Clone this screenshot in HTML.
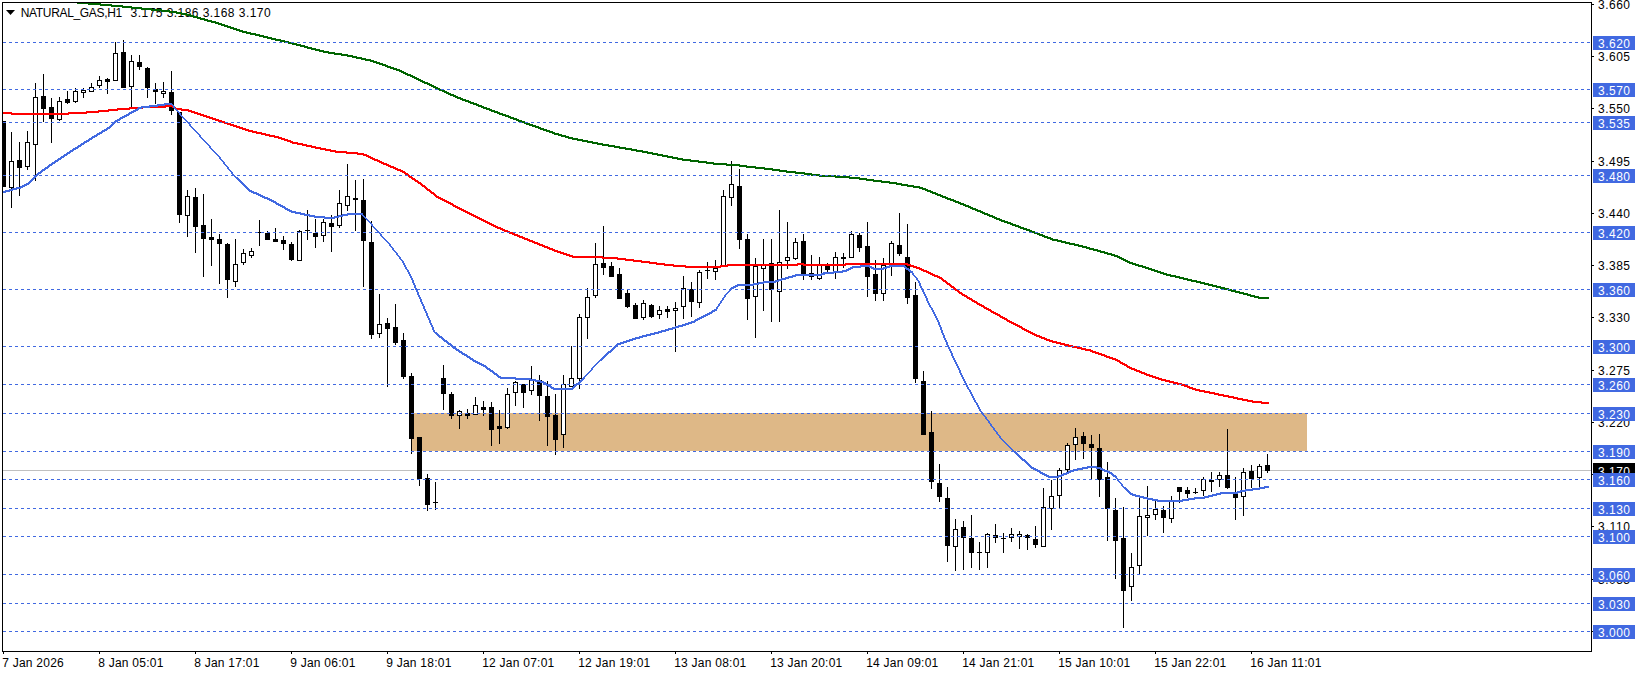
<!DOCTYPE html>
<html lang="en"><head><meta charset="utf-8"><title>NATURAL_GAS,H1</title>
<style>html,body{margin:0;padding:0;background:#fff;overflow:hidden}svg{display:block}text{font-family:"Liberation Sans",sans-serif;font-size:12px;fill:#000}.w{fill:#fff}.c{shape-rendering:crispEdges}</style></head><body>
<svg width="1641" height="675" viewBox="0 0 1641 675">
<rect width="1641" height="675" fill="#fff"/>
<defs><clipPath id="cp"><rect x="3" y="3" width="1588" height="648"/></clipPath></defs>
<g class="c" clip-path="url(#cp)">
<rect x="412" y="413" width="895" height="38" fill="#deb887"/>
<rect x="0" y="470" width="1591" height="1" fill="#c0c0c0"/>
</g>
<g class="c" clip-path="url(#cp)">
<rect x="3" y="121" width="1" height="66" fill="#000"/>
<rect x="1" y="121" width="5" height="66" fill="#000"/>
<rect x="11" y="132" width="1" height="76" fill="#000"/>
<rect x="9" y="161" width="5" height="27" fill="#000"/><rect x="10" y="162" width="3" height="25" fill="#fff"/>
<rect x="19" y="142" width="1" height="54" fill="#000"/>
<rect x="17" y="160" width="5" height="8" fill="#000"/>
<rect x="27" y="131" width="1" height="39" fill="#000"/>
<rect x="25" y="142" width="5" height="25" fill="#000"/><rect x="26" y="143" width="3" height="23" fill="#fff"/>
<rect x="35" y="83" width="1" height="98" fill="#000"/>
<rect x="33" y="97" width="5" height="48" fill="#000"/><rect x="34" y="98" width="3" height="46" fill="#fff"/>
<rect x="43" y="74" width="1" height="48" fill="#000"/>
<rect x="41" y="96" width="5" height="13" fill="#000"/>
<rect x="51" y="98" width="1" height="45" fill="#000"/>
<rect x="49" y="107" width="5" height="12" fill="#000"/>
<rect x="59" y="97" width="1" height="24" fill="#000"/>
<rect x="57" y="101" width="5" height="19" fill="#000"/><rect x="58" y="102" width="3" height="17" fill="#fff"/>
<rect x="67" y="91" width="1" height="13" fill="#000"/>
<rect x="65" y="99" width="5" height="4" fill="#000"/>
<rect x="75" y="88" width="1" height="15" fill="#000"/>
<rect x="73" y="91" width="5" height="11" fill="#000"/><rect x="74" y="92" width="3" height="9" fill="#fff"/>
<rect x="83" y="88" width="1" height="10" fill="#000"/>
<rect x="81" y="90" width="5" height="3" fill="#000"/><rect x="82" y="91" width="3" height="1" fill="#fff"/>
<rect x="91" y="83" width="1" height="9" fill="#000"/>
<rect x="89" y="87" width="5" height="5" fill="#000"/><rect x="90" y="88" width="3" height="3" fill="#fff"/>
<rect x="99" y="76" width="1" height="12" fill="#000"/>
<rect x="97" y="80" width="5" height="6" fill="#000"/><rect x="98" y="81" width="3" height="4" fill="#fff"/>
<rect x="107" y="78" width="1" height="16" fill="#000"/>
<rect x="105" y="79" width="5" height="3" fill="#000"/>
<rect x="115" y="42" width="1" height="39" fill="#000"/>
<rect x="113" y="53" width="5" height="28" fill="#000"/><rect x="114" y="54" width="3" height="26" fill="#fff"/>
<rect x="123" y="40" width="1" height="48" fill="#000"/>
<rect x="121" y="52" width="5" height="36" fill="#000"/>
<rect x="131" y="55" width="1" height="52" fill="#000"/>
<rect x="129" y="61" width="5" height="26" fill="#000"/><rect x="130" y="62" width="3" height="24" fill="#fff"/>
<rect x="139" y="55" width="1" height="15" fill="#000"/>
<rect x="137" y="62" width="5" height="5" fill="#000"/>
<rect x="147" y="67" width="1" height="31" fill="#000"/>
<rect x="145" y="68" width="5" height="20" fill="#000"/>
<rect x="155" y="83" width="1" height="21" fill="#000"/>
<rect x="153" y="89" width="5" height="3" fill="#000"/>
<rect x="163" y="82" width="1" height="16" fill="#000"/>
<rect x="161" y="91" width="5" height="3" fill="#000"/><rect x="162" y="92" width="3" height="1" fill="#fff"/>
<rect x="171" y="71" width="1" height="44" fill="#000"/>
<rect x="169" y="92" width="5" height="19" fill="#000"/>
<rect x="179" y="112" width="1" height="111" fill="#000"/>
<rect x="177" y="112" width="5" height="103" fill="#000"/>
<rect x="187" y="190" width="1" height="47" fill="#000"/>
<rect x="185" y="196" width="5" height="20" fill="#000"/><rect x="186" y="197" width="3" height="18" fill="#fff"/>
<rect x="195" y="188" width="1" height="65" fill="#000"/>
<rect x="193" y="197" width="5" height="30" fill="#000"/>
<rect x="203" y="194" width="1" height="83" fill="#000"/>
<rect x="201" y="225" width="5" height="14" fill="#000"/>
<rect x="211" y="219" width="1" height="47" fill="#000"/>
<rect x="209" y="237" width="5" height="3" fill="#000"/>
<rect x="219" y="234" width="1" height="50" fill="#000"/>
<rect x="217" y="239" width="5" height="5" fill="#000"/>
<rect x="227" y="243" width="1" height="55" fill="#000"/>
<rect x="225" y="244" width="5" height="36" fill="#000"/>
<rect x="235" y="239" width="1" height="48" fill="#000"/>
<rect x="233" y="264" width="5" height="18" fill="#000"/><rect x="234" y="265" width="3" height="16" fill="#fff"/>
<rect x="243" y="249" width="1" height="16" fill="#000"/>
<rect x="241" y="253" width="5" height="10" fill="#000"/><rect x="242" y="254" width="3" height="8" fill="#fff"/>
<rect x="251" y="248" width="1" height="10" fill="#000"/>
<rect x="249" y="251" width="5" height="5" fill="#000"/><rect x="250" y="252" width="3" height="3" fill="#fff"/>
<rect x="259" y="220" width="1" height="26" fill="#000"/>
<rect x="257" y="232" width="5" height="1" fill="#000"/>
<rect x="267" y="231" width="1" height="9" fill="#000"/>
<rect x="265" y="233" width="5" height="7" fill="#000"/>
<rect x="275" y="228" width="1" height="14" fill="#000"/>
<rect x="273" y="239" width="5" height="3" fill="#000"/>
<rect x="283" y="236" width="1" height="14" fill="#000"/>
<rect x="281" y="240" width="5" height="4" fill="#000"/>
<rect x="291" y="242" width="1" height="19" fill="#000"/>
<rect x="289" y="244" width="5" height="16" fill="#000"/>
<rect x="299" y="230" width="1" height="31" fill="#000"/>
<rect x="297" y="231" width="5" height="30" fill="#000"/><rect x="298" y="232" width="3" height="28" fill="#fff"/>
<rect x="307" y="210" width="1" height="30" fill="#000"/>
<rect x="305" y="230" width="5" height="1" fill="#000"/>
<rect x="315" y="219" width="1" height="29" fill="#000"/>
<rect x="313" y="233" width="5" height="4" fill="#000"/>
<rect x="323" y="219" width="1" height="23" fill="#000"/>
<rect x="321" y="222" width="5" height="14" fill="#000"/><rect x="322" y="223" width="3" height="12" fill="#fff"/>
<rect x="331" y="215" width="1" height="37" fill="#000"/>
<rect x="329" y="223" width="5" height="4" fill="#000"/>
<rect x="339" y="190" width="1" height="38" fill="#000"/>
<rect x="337" y="203" width="5" height="23" fill="#000"/><rect x="338" y="204" width="3" height="21" fill="#fff"/>
<rect x="347" y="164" width="1" height="47" fill="#000"/>
<rect x="345" y="196" width="5" height="10" fill="#000"/><rect x="346" y="197" width="3" height="8" fill="#fff"/>
<rect x="355" y="180" width="1" height="51" fill="#000"/>
<rect x="353" y="198" width="5" height="2" fill="#000"/>
<rect x="363" y="179" width="1" height="108" fill="#000"/>
<rect x="361" y="200" width="5" height="41" fill="#000"/>
<rect x="371" y="221" width="1" height="118" fill="#000"/>
<rect x="369" y="242" width="5" height="93" fill="#000"/>
<rect x="379" y="294" width="1" height="44" fill="#000"/>
<rect x="377" y="324" width="5" height="10" fill="#000"/><rect x="378" y="325" width="3" height="8" fill="#fff"/>
<rect x="387" y="318" width="1" height="69" fill="#000"/>
<rect x="385" y="323" width="5" height="6" fill="#000"/>
<rect x="395" y="304" width="1" height="41" fill="#000"/>
<rect x="393" y="327" width="5" height="16" fill="#000"/>
<rect x="403" y="333" width="1" height="46" fill="#000"/>
<rect x="401" y="340" width="5" height="37" fill="#000"/>
<rect x="411" y="373" width="1" height="81" fill="#000"/>
<rect x="409" y="376" width="5" height="63" fill="#000"/>
<rect x="419" y="437" width="1" height="49" fill="#000"/>
<rect x="417" y="437" width="5" height="42" fill="#000"/>
<rect x="427" y="474" width="1" height="37" fill="#000"/>
<rect x="425" y="478" width="5" height="27" fill="#000"/>
<rect x="435" y="482" width="1" height="28" fill="#000"/>
<rect x="433" y="502" width="5" height="1" fill="#000"/>
<rect x="443" y="365" width="1" height="45" fill="#000"/>
<rect x="441" y="378" width="5" height="16" fill="#000"/>
<rect x="451" y="392" width="1" height="27" fill="#000"/>
<rect x="449" y="394" width="5" height="22" fill="#000"/>
<rect x="459" y="410" width="1" height="19" fill="#000"/>
<rect x="457" y="411" width="5" height="5" fill="#000"/><rect x="458" y="412" width="3" height="3" fill="#fff"/>
<rect x="467" y="409" width="1" height="10" fill="#000"/>
<rect x="465" y="413" width="5" height="3" fill="#000"/>
<rect x="475" y="397" width="1" height="18" fill="#000"/>
<rect x="473" y="405" width="5" height="10" fill="#000"/><rect x="474" y="406" width="3" height="8" fill="#fff"/>
<rect x="483" y="401" width="1" height="15" fill="#000"/>
<rect x="481" y="407" width="5" height="3" fill="#000"/>
<rect x="491" y="402" width="1" height="44" fill="#000"/>
<rect x="489" y="407" width="5" height="23" fill="#000"/>
<rect x="499" y="410" width="1" height="34" fill="#000"/>
<rect x="497" y="426" width="5" height="3" fill="#000"/>
<rect x="507" y="388" width="1" height="41" fill="#000"/>
<rect x="505" y="394" width="5" height="34" fill="#000"/><rect x="506" y="395" width="3" height="32" fill="#fff"/>
<rect x="515" y="381" width="1" height="25" fill="#000"/>
<rect x="513" y="382" width="5" height="11" fill="#000"/><rect x="514" y="383" width="3" height="9" fill="#fff"/>
<rect x="523" y="384" width="1" height="24" fill="#000"/>
<rect x="521" y="384" width="5" height="9" fill="#000"/>
<rect x="531" y="366" width="1" height="29" fill="#000"/>
<rect x="529" y="379" width="5" height="12" fill="#000"/><rect x="530" y="380" width="3" height="10" fill="#fff"/>
<rect x="539" y="375" width="1" height="46" fill="#000"/>
<rect x="537" y="380" width="5" height="16" fill="#000"/>
<rect x="547" y="381" width="1" height="65" fill="#000"/>
<rect x="545" y="396" width="5" height="21" fill="#000"/>
<rect x="555" y="394" width="1" height="61" fill="#000"/>
<rect x="553" y="415" width="5" height="25" fill="#000"/>
<rect x="563" y="375" width="1" height="73" fill="#000"/>
<rect x="561" y="384" width="5" height="51" fill="#000"/><rect x="562" y="385" width="3" height="49" fill="#fff"/>
<rect x="571" y="346" width="1" height="41" fill="#000"/>
<rect x="569" y="378" width="5" height="9" fill="#000"/><rect x="570" y="379" width="3" height="7" fill="#fff"/>
<rect x="579" y="314" width="1" height="75" fill="#000"/>
<rect x="577" y="317" width="5" height="62" fill="#000"/><rect x="578" y="318" width="3" height="60" fill="#fff"/>
<rect x="587" y="288" width="1" height="51" fill="#000"/>
<rect x="585" y="297" width="5" height="21" fill="#000"/><rect x="586" y="298" width="3" height="19" fill="#fff"/>
<rect x="595" y="243" width="1" height="55" fill="#000"/>
<rect x="593" y="264" width="5" height="32" fill="#000"/><rect x="594" y="265" width="3" height="30" fill="#fff"/>
<rect x="603" y="226" width="1" height="49" fill="#000"/>
<rect x="601" y="263" width="5" height="5" fill="#000"/>
<rect x="611" y="262" width="1" height="15" fill="#000"/>
<rect x="609" y="266" width="5" height="11" fill="#000"/>
<rect x="619" y="268" width="1" height="31" fill="#000"/>
<rect x="617" y="274" width="5" height="25" fill="#000"/>
<rect x="627" y="289" width="1" height="19" fill="#000"/>
<rect x="625" y="293" width="5" height="14" fill="#000"/>
<rect x="635" y="303" width="1" height="16" fill="#000"/>
<rect x="633" y="305" width="5" height="14" fill="#000"/>
<rect x="643" y="300" width="1" height="20" fill="#000"/>
<rect x="641" y="303" width="5" height="15" fill="#000"/><rect x="642" y="304" width="3" height="13" fill="#fff"/>
<rect x="651" y="304" width="1" height="14" fill="#000"/>
<rect x="649" y="305" width="5" height="12" fill="#000"/>
<rect x="659" y="306" width="1" height="13" fill="#000"/>
<rect x="657" y="310" width="5" height="5" fill="#000"/><rect x="658" y="311" width="3" height="3" fill="#fff"/>
<rect x="667" y="306" width="1" height="12" fill="#000"/>
<rect x="665" y="309" width="5" height="3" fill="#000"/>
<rect x="675" y="302" width="1" height="50" fill="#000"/>
<rect x="673" y="308" width="5" height="3" fill="#000"/><rect x="674" y="309" width="3" height="1" fill="#fff"/>
<rect x="683" y="276" width="1" height="43" fill="#000"/>
<rect x="681" y="288" width="5" height="19" fill="#000"/><rect x="682" y="289" width="3" height="17" fill="#fff"/>
<rect x="691" y="282" width="1" height="35" fill="#000"/>
<rect x="689" y="289" width="5" height="13" fill="#000"/>
<rect x="699" y="270" width="1" height="38" fill="#000"/>
<rect x="697" y="272" width="5" height="31" fill="#000"/><rect x="698" y="273" width="3" height="29" fill="#fff"/>
<rect x="707" y="262" width="1" height="17" fill="#000"/>
<rect x="705" y="270" width="5" height="1" fill="#000"/>
<rect x="715" y="260" width="1" height="20" fill="#000"/>
<rect x="713" y="268" width="5" height="4" fill="#000"/><rect x="714" y="269" width="3" height="2" fill="#fff"/>
<rect x="723" y="190" width="1" height="76" fill="#000"/>
<rect x="721" y="196" width="5" height="70" fill="#000"/><rect x="722" y="197" width="3" height="68" fill="#fff"/>
<rect x="731" y="161" width="1" height="45" fill="#000"/>
<rect x="729" y="184" width="5" height="14" fill="#000"/><rect x="730" y="185" width="3" height="12" fill="#fff"/>
<rect x="739" y="169" width="1" height="80" fill="#000"/>
<rect x="737" y="186" width="5" height="54" fill="#000"/>
<rect x="747" y="234" width="1" height="86" fill="#000"/>
<rect x="745" y="239" width="5" height="60" fill="#000"/>
<rect x="755" y="258" width="1" height="80" fill="#000"/>
<rect x="753" y="266" width="5" height="31" fill="#000"/><rect x="754" y="267" width="3" height="29" fill="#fff"/>
<rect x="763" y="239" width="1" height="72" fill="#000"/>
<rect x="761" y="264" width="5" height="5" fill="#000"/><rect x="762" y="265" width="3" height="3" fill="#fff"/>
<rect x="771" y="239" width="1" height="83" fill="#000"/>
<rect x="769" y="263" width="5" height="27" fill="#000"/>
<rect x="779" y="210" width="1" height="112" fill="#000"/>
<rect x="777" y="262" width="5" height="30" fill="#000"/><rect x="778" y="263" width="3" height="28" fill="#fff"/>
<rect x="787" y="222" width="1" height="47" fill="#000"/>
<rect x="785" y="257" width="5" height="4" fill="#000"/><rect x="786" y="258" width="3" height="2" fill="#fff"/>
<rect x="795" y="238" width="1" height="22" fill="#000"/>
<rect x="793" y="242" width="5" height="17" fill="#000"/><rect x="794" y="243" width="3" height="15" fill="#fff"/>
<rect x="803" y="234" width="1" height="46" fill="#000"/>
<rect x="801" y="241" width="5" height="34" fill="#000"/>
<rect x="811" y="255" width="1" height="25" fill="#000"/>
<rect x="809" y="273" width="5" height="4" fill="#000"/>
<rect x="819" y="257" width="1" height="23" fill="#000"/>
<rect x="817" y="264" width="5" height="15" fill="#000"/><rect x="818" y="265" width="3" height="13" fill="#fff"/>
<rect x="827" y="263" width="1" height="10" fill="#000"/>
<rect x="825" y="266" width="5" height="4" fill="#000"/>
<rect x="835" y="252" width="1" height="27" fill="#000"/>
<rect x="833" y="257" width="5" height="16" fill="#000"/><rect x="834" y="258" width="3" height="14" fill="#fff"/>
<rect x="843" y="253" width="1" height="15" fill="#000"/>
<rect x="841" y="257" width="5" height="2" fill="#000"/>
<rect x="851" y="231" width="1" height="27" fill="#000"/>
<rect x="849" y="234" width="5" height="24" fill="#000"/><rect x="850" y="235" width="3" height="22" fill="#fff"/>
<rect x="859" y="233" width="1" height="19" fill="#000"/>
<rect x="857" y="235" width="5" height="13" fill="#000"/>
<rect x="867" y="222" width="1" height="75" fill="#000"/>
<rect x="865" y="246" width="5" height="31" fill="#000"/>
<rect x="875" y="260" width="1" height="41" fill="#000"/>
<rect x="873" y="274" width="5" height="20" fill="#000"/>
<rect x="883" y="258" width="1" height="43" fill="#000"/>
<rect x="881" y="265" width="5" height="29" fill="#000"/><rect x="882" y="266" width="3" height="27" fill="#fff"/>
<rect x="891" y="241" width="1" height="35" fill="#000"/>
<rect x="889" y="243" width="5" height="23" fill="#000"/><rect x="890" y="244" width="3" height="21" fill="#fff"/>
<rect x="899" y="213" width="1" height="43" fill="#000"/>
<rect x="897" y="245" width="5" height="9" fill="#000"/>
<rect x="907" y="224" width="1" height="80" fill="#000"/>
<rect x="905" y="257" width="5" height="41" fill="#000"/>
<rect x="915" y="282" width="1" height="101" fill="#000"/>
<rect x="913" y="295" width="5" height="84" fill="#000"/>
<rect x="923" y="371" width="1" height="64" fill="#000"/>
<rect x="921" y="381" width="5" height="54" fill="#000"/>
<rect x="931" y="411" width="1" height="78" fill="#000"/>
<rect x="929" y="432" width="5" height="50" fill="#000"/>
<rect x="939" y="464" width="1" height="38" fill="#000"/>
<rect x="937" y="483" width="5" height="14" fill="#000"/>
<rect x="947" y="487" width="1" height="75" fill="#000"/>
<rect x="945" y="498" width="5" height="48" fill="#000"/>
<rect x="955" y="519" width="1" height="52" fill="#000"/>
<rect x="953" y="529" width="5" height="18" fill="#000"/><rect x="954" y="530" width="3" height="16" fill="#fff"/>
<rect x="963" y="521" width="1" height="49" fill="#000"/>
<rect x="961" y="527" width="5" height="11" fill="#000"/>
<rect x="971" y="515" width="1" height="53" fill="#000"/>
<rect x="969" y="538" width="5" height="15" fill="#000"/>
<rect x="979" y="542" width="1" height="28" fill="#000"/>
<rect x="977" y="552" width="5" height="1" fill="#000"/>
<rect x="987" y="533" width="1" height="35" fill="#000"/>
<rect x="985" y="534" width="5" height="19" fill="#000"/><rect x="986" y="535" width="3" height="17" fill="#fff"/>
<rect x="995" y="524" width="1" height="19" fill="#000"/>
<rect x="993" y="535" width="5" height="3" fill="#000"/>
<rect x="1003" y="533" width="1" height="20" fill="#000"/>
<rect x="1001" y="538" width="5" height="1" fill="#000"/>
<rect x="1011" y="528" width="1" height="14" fill="#000"/>
<rect x="1009" y="534" width="5" height="4" fill="#000"/><rect x="1010" y="535" width="3" height="2" fill="#fff"/>
<rect x="1019" y="531" width="1" height="18" fill="#000"/>
<rect x="1017" y="534" width="5" height="3" fill="#000"/><rect x="1018" y="535" width="3" height="1" fill="#fff"/>
<rect x="1027" y="534" width="1" height="16" fill="#000"/>
<rect x="1025" y="535" width="5" height="3" fill="#000"/>
<rect x="1035" y="526" width="1" height="22" fill="#000"/>
<rect x="1033" y="539" width="5" height="6" fill="#000"/>
<rect x="1043" y="488" width="1" height="59" fill="#000"/>
<rect x="1041" y="507" width="5" height="40" fill="#000"/><rect x="1042" y="508" width="3" height="38" fill="#fff"/>
<rect x="1051" y="480" width="1" height="50" fill="#000"/>
<rect x="1049" y="496" width="5" height="13" fill="#000"/><rect x="1050" y="497" width="3" height="11" fill="#fff"/>
<rect x="1059" y="468" width="1" height="41" fill="#000"/>
<rect x="1057" y="470" width="5" height="26" fill="#000"/><rect x="1058" y="471" width="3" height="24" fill="#fff"/>
<rect x="1067" y="443" width="1" height="29" fill="#000"/>
<rect x="1065" y="445" width="5" height="25" fill="#000"/><rect x="1066" y="446" width="3" height="23" fill="#fff"/>
<rect x="1075" y="428" width="1" height="32" fill="#000"/>
<rect x="1073" y="437" width="5" height="8" fill="#000"/><rect x="1074" y="438" width="3" height="6" fill="#fff"/>
<rect x="1083" y="432" width="1" height="27" fill="#000"/>
<rect x="1081" y="436" width="5" height="8" fill="#000"/>
<rect x="1091" y="435" width="1" height="44" fill="#000"/>
<rect x="1089" y="444" width="5" height="4" fill="#000"/>
<rect x="1099" y="434" width="1" height="63" fill="#000"/>
<rect x="1097" y="448" width="5" height="32" fill="#000"/>
<rect x="1107" y="462" width="1" height="79" fill="#000"/>
<rect x="1105" y="477" width="5" height="32" fill="#000"/>
<rect x="1115" y="498" width="1" height="81" fill="#000"/>
<rect x="1113" y="510" width="5" height="31" fill="#000"/>
<rect x="1123" y="507" width="1" height="121" fill="#000"/>
<rect x="1121" y="538" width="5" height="53" fill="#000"/>
<rect x="1131" y="553" width="1" height="48" fill="#000"/>
<rect x="1129" y="567" width="5" height="20" fill="#000"/><rect x="1130" y="568" width="3" height="18" fill="#fff"/>
<rect x="1139" y="498" width="1" height="76" fill="#000"/>
<rect x="1137" y="516" width="5" height="50" fill="#000"/><rect x="1138" y="517" width="3" height="48" fill="#fff"/>
<rect x="1147" y="486" width="1" height="50" fill="#000"/>
<rect x="1145" y="515" width="5" height="3" fill="#000"/><rect x="1146" y="516" width="3" height="1" fill="#fff"/>
<rect x="1155" y="500" width="1" height="20" fill="#000"/>
<rect x="1153" y="509" width="5" height="6" fill="#000"/><rect x="1154" y="510" width="3" height="4" fill="#fff"/>
<rect x="1163" y="506" width="1" height="27" fill="#000"/>
<rect x="1161" y="510" width="5" height="8" fill="#000"/>
<rect x="1171" y="496" width="1" height="27" fill="#000"/>
<rect x="1169" y="501" width="5" height="18" fill="#000"/><rect x="1170" y="502" width="3" height="16" fill="#fff"/>
<rect x="1179" y="487" width="1" height="16" fill="#000"/>
<rect x="1177" y="487" width="5" height="5" fill="#000"/>
<rect x="1187" y="487" width="1" height="11" fill="#000"/>
<rect x="1185" y="490" width="5" height="4" fill="#000"/>
<rect x="1195" y="488" width="1" height="6" fill="#000"/>
<rect x="1193" y="492" width="5" height="1" fill="#000"/>
<rect x="1203" y="477" width="1" height="19" fill="#000"/>
<rect x="1201" y="479" width="5" height="12" fill="#000"/><rect x="1202" y="480" width="3" height="10" fill="#fff"/>
<rect x="1211" y="472" width="1" height="20" fill="#000"/>
<rect x="1209" y="480" width="5" height="2" fill="#000"/>
<rect x="1219" y="472" width="1" height="15" fill="#000"/>
<rect x="1217" y="475" width="5" height="5" fill="#000"/><rect x="1218" y="476" width="3" height="3" fill="#fff"/>
<rect x="1227" y="429" width="1" height="60" fill="#000"/>
<rect x="1225" y="475" width="5" height="13" fill="#000"/>
<rect x="1235" y="477" width="1" height="43" fill="#000"/>
<rect x="1233" y="492" width="5" height="6" fill="#000"/>
<rect x="1243" y="468" width="1" height="48" fill="#000"/>
<rect x="1241" y="472" width="5" height="25" fill="#000"/><rect x="1242" y="473" width="3" height="23" fill="#fff"/>
<rect x="1251" y="465" width="1" height="23" fill="#000"/>
<rect x="1249" y="471" width="5" height="8" fill="#000"/>
<rect x="1259" y="464" width="1" height="23" fill="#000"/>
<rect x="1257" y="466" width="5" height="12" fill="#000"/><rect x="1258" y="467" width="3" height="10" fill="#fff"/>
<rect x="1267" y="454" width="1" height="19" fill="#000"/>
<rect x="1265" y="465" width="5" height="6" fill="#000"/>
</g>
<path d="M6 10h9l-4.5 5z" fill="#000"/>
<text x="20.7" y="17" textLength="101.5" lengthAdjust="spacing">NATURAL_GAS,H1</text>
<text x="130.6" y="17" textLength="140" lengthAdjust="spacing">3.175 3.186 3.168 3.170</text>
<path class="c" fill="none" stroke="#006400" stroke-width="1" d="M77 3.5h24M88 4.5h24M100 5.5h23M111 6.5h21M122 7.5h20M131 8.5h21M141 9.5h21M151 10.5h19M161 11.5h16M169 12.5h13M176 13.5h11M181 14.5h10M186 15.5h8M190 16.5h8M193 17.5h8M197 18.5h8M200 19.5h8M204 20.5h8M207 21.5h9M211 22.5h8M215 23.5h7M218 24.5h7M221 25.5h7M224 26.5h7M227 27.5h7M230 28.5h7M233 29.5h7M236 30.5h7M239 31.5h8M242 32.5h9M246 33.5h10M250 34.5h10M255 35.5h9M259 36.5h9M263 37.5h9M267 38.5h9M271 39.5h10M275 40.5h10M280 41.5h9M284 42.5h9M288 43.5h9M292 44.5h9M296 45.5h9M300 46.5h8M304 47.5h8M307 48.5h9M311 49.5h9M315 50.5h9M319 51.5h10M323 52.5h12M328 53.5h14M334 54.5h14M341 55.5h12M347 56.5h10M352 57.5h10M356 58.5h10M361 59.5h10M365 60.5h9M370 61.5h7M373 62.5h7M376 63.5h7M379 64.5h7M382 65.5h6M385 66.5h6M387 67.5h7M390 68.5h7M393 69.5h7M396 70.5h6M399 71.5h5M401 72.5h5M403 73.5h5M405 74.5h6M407 75.5h6M410 76.5h5M412 77.5h5M414 78.5h5M416 79.5h5M418 80.5h5M420 81.5h5M422 82.5h6M424 83.5h6M427 84.5h5M429 85.5h5M431 86.5h5M433 87.5h5M435 88.5h5M437 89.5h6M439 90.5h6M442 91.5h5M444 92.5h5M446 93.5h5M448 94.5h6M450 95.5h6M453 96.5h5M455 97.5h6M457 98.5h6M460 99.5h6M462 100.5h7M465 101.5h6M468 102.5h6M470 103.5h7M473 104.5h6M476 105.5h6M478 106.5h6M481 107.5h6M483 108.5h7M486 109.5h6M489 110.5h6M491 111.5h7M494 112.5h6M497 113.5h6M499 114.5h7M502 115.5h7M505 116.5h6M508 117.5h6M510 118.5h7M513 119.5h6M516 120.5h6M518 121.5h7M521 122.5h6M524 123.5h6M526 124.5h7M529 125.5h7M532 126.5h7M535 127.5h6M538 128.5h6M540 129.5h7M543 130.5h7M546 131.5h7M549 132.5h6M552 133.5h7M554 134.5h8M558 135.5h8M561 136.5h8M565 137.5h8M568 138.5h10M572 139.5h11M577 140.5h11M582 141.5h11M587 142.5h11M592 143.5h11M597 144.5h12M602 145.5h13M608 146.5h12M614 147.5h12M619 148.5h13M625 149.5h12M631 150.5h12M636 151.5h12M642 152.5h11M647 153.5h11M652 154.5h11M657 155.5h11M662 156.5h11M667 157.5h11M672 158.5h11M677 159.5h14M682 160.5h17M690 161.5h17M698 162.5h16M706 163.5h21M713 164.5h27M726 165.5h21M739 166.5h17M746 167.5h19M755 168.5h18M764 169.5h16M772 170.5h15M779 171.5h17M786 172.5h19M795 173.5h17M804 174.5h16M811 175.5h25M819 176.5h31M835 177.5h25M849 178.5h18M859 179.5h15M866 180.5h16M873 181.5h17M881 182.5h16M889 183.5h13M896 184.5h12M901 185.5h13M907 186.5h13M913 187.5h10M919 188.5h7M922 189.5h6M925 190.5h6M927 191.5h6M930 192.5h6M932 193.5h6M935 194.5h6M937 195.5h6M940 196.5h6M942 197.5h6M945 198.5h6M947 199.5h7M950 200.5h6M953 201.5h6M955 202.5h6M958 203.5h6M960 204.5h6M963 205.5h6M965 206.5h6M968 207.5h5M970 208.5h6M972 209.5h6M975 210.5h6M977 211.5h6M980 212.5h5M982 213.5h6M984 214.5h6M987 215.5h6M989 216.5h6M992 217.5h5M994 218.5h6M996 219.5h6M999 220.5h6M1001 221.5h7M1004 222.5h7M1007 223.5h6M1010 224.5h6M1012 225.5h7M1015 226.5h6M1018 227.5h6M1020 228.5h7M1023 229.5h7M1026 230.5h6M1029 231.5h6M1031 232.5h7M1034 233.5h6M1037 234.5h6M1039 235.5h6M1042 236.5h6M1044 237.5h7M1047 238.5h6M1050 239.5h8M1052 240.5h10M1057 241.5h9M1061 242.5h9M1065 243.5h10M1069 244.5h10M1074 245.5h9M1078 246.5h9M1082 247.5h8M1086 248.5h8M1089 249.5h9M1093 250.5h8M1097 251.5h8M1100 252.5h8M1104 253.5h8M1107 254.5h8M1111 255.5h7M1114 256.5h6M1117 257.5h5M1119 258.5h5M1121 259.5h5M1123 260.5h5M1125 261.5h5M1127 262.5h6M1129 263.5h7M1132 264.5h7M1135 265.5h8M1138 266.5h8M1142 267.5h7M1145 268.5h7M1148 269.5h7M1151 270.5h7M1154 271.5h7M1157 272.5h7M1160 273.5h7M1163 274.5h8M1166 275.5h10M1170 276.5h10M1175 277.5h9M1179 278.5h9M1183 279.5h9M1187 280.5h10M1191 281.5h10M1196 282.5h9M1200 283.5h9M1204 284.5h9M1208 285.5h9M1212 286.5h9M1216 287.5h9M1220 288.5h9M1224 289.5h8M1228 290.5h8M1231 291.5h9M1235 292.5h9M1239 293.5h9M1243 294.5h8M1247 295.5h8M1250 296.5h9M1254 297.5h15M1258 298.5h11"/>
<path class="c" fill="none" stroke="#ff0000" stroke-width="1" d="M165 105.5h8M142 106.5h33M129 107.5h37M172 107.5h4M117 108.5h26M174 108.5h8M108 109.5h22M175 109.5h14M98 110.5h20M181 110.5h11M86 111.5h23M188 111.5h7M3 112.5h9M68 112.5h31M191 112.5h7M3 113.5h84M194 113.5h7M11 114.5h58M197 114.5h7M200 115.5h7M203 116.5h7M206 117.5h7M209 118.5h7M212 119.5h7M215 120.5h7M218 121.5h7M221 122.5h7M224 123.5h7M227 124.5h7M230 125.5h7M233 126.5h7M236 127.5h7M239 128.5h7M242 129.5h7M245 130.5h8M248 131.5h9M252 132.5h10M256 133.5h10M261 134.5h9M265 135.5h10M269 136.5h10M274 137.5h8M278 138.5h7M281 139.5h7M284 140.5h7M287 141.5h6M290 142.5h8M292 143.5h11M297 144.5h10M302 145.5h10M306 146.5h10M311 147.5h10M315 148.5h11M320 149.5h11M325 150.5h11M330 151.5h17M335 152.5h23M346 153.5h18M357 154.5h10M363 155.5h6M366 156.5h5M368 157.5h5M370 158.5h5M372 159.5h6M374 160.5h6M377 161.5h5M379 162.5h5M381 163.5h6M383 164.5h6M386 165.5h5M388 166.5h6M390 167.5h6M393 168.5h5M395 169.5h6M397 170.5h6M400 171.5h5M402 172.5h4M404 173.5h4M405 174.5h4M407 175.5h3M408 176.5h4M409 177.5h4M411 178.5h4M412 179.5h4M414 180.5h4M415 181.5h4M417 182.5h4M418 183.5h4M420 184.5h3M421 185.5h4M422 186.5h4M424 187.5h3M425 188.5h3M426 189.5h4M427 190.5h4M429 191.5h3M430 192.5h4M431 193.5h4M433 194.5h3M434 195.5h3M435 196.5h4M436 197.5h5M438 198.5h5M440 199.5h5M442 200.5h5M444 201.5h5M446 202.5h5M448 203.5h5M450 204.5h4M452 205.5h4M453 206.5h5M455 207.5h5M457 208.5h5M459 209.5h5M461 210.5h5M463 211.5h5M465 212.5h5M467 213.5h5M469 214.5h5M471 215.5h5M473 216.5h5M475 217.5h5M477 218.5h5M479 219.5h5M481 220.5h5M483 221.5h5M485 222.5h5M487 223.5h5M489 224.5h5M491 225.5h5M493 226.5h5M495 227.5h6M497 228.5h6M500 229.5h5M502 230.5h6M504 231.5h6M507 232.5h6M509 233.5h6M512 234.5h6M514 235.5h6M517 236.5h6M519 237.5h6M522 238.5h6M524 239.5h6M527 240.5h6M529 241.5h6M532 242.5h6M534 243.5h6M537 244.5h6M539 245.5h6M542 246.5h6M544 247.5h6M547 248.5h6M549 249.5h6M552 250.5h6M554 251.5h7M557 252.5h7M560 253.5h7M563 254.5h7M566 255.5h7M569 256.5h34M572 257.5h46M602 258.5h24M617 259.5h17M625 260.5h17M633 261.5h17M641 262.5h16M649 263.5h16M797 263.5h7M845 263.5h63M656 264.5h18M727 264.5h184M664 265.5h22M720 265.5h78M803 265.5h43M907 265.5h7M673 266.5h55M910 266.5h7M685 267.5h36M913 267.5h7M916 268.5h6M919 269.5h5M921 270.5h6M923 271.5h6M926 272.5h5M928 273.5h5M930 274.5h5M932 275.5h6M934 276.5h6M937 277.5h5M939 278.5h4M941 279.5h3M942 280.5h4M943 281.5h4M945 282.5h3M946 283.5h4M947 284.5h4M949 285.5h3M950 286.5h4M951 287.5h4M953 288.5h3M954 289.5h4M955 290.5h4M957 291.5h3M958 292.5h4M959 293.5h4M961 294.5h4M962 295.5h5M964 296.5h4M966 297.5h4M967 298.5h5M969 299.5h4M971 300.5h4M972 301.5h5M974 302.5h4M976 303.5h4M977 304.5h5M979 305.5h5M981 306.5h4M983 307.5h4M984 308.5h5M986 309.5h5M988 310.5h4M990 311.5h4M991 312.5h5M993 313.5h5M995 314.5h5M997 315.5h4M999 316.5h4M1000 317.5h5M1002 318.5h5M1004 319.5h4M1006 320.5h4M1007 321.5h5M1009 322.5h5M1011 323.5h5M1013 324.5h5M1015 325.5h5M1017 326.5h5M1019 327.5h4M1021 328.5h4M1022 329.5h5M1024 330.5h5M1026 331.5h5M1028 332.5h5M1030 333.5h5M1032 334.5h5M1034 335.5h6M1036 336.5h6M1039 337.5h6M1041 338.5h6M1044 339.5h6M1046 340.5h7M1049 341.5h8M1052 342.5h9M1056 343.5h9M1060 344.5h9M1064 345.5h9M1068 346.5h10M1072 347.5h10M1077 348.5h9M1081 349.5h10M1085 350.5h8M1090 351.5h6M1092 352.5h7M1095 353.5h7M1098 354.5h7M1101 355.5h6M1104 356.5h6M1106 357.5h7M1109 358.5h7M1112 359.5h6M1115 360.5h5M1117 361.5h4M1119 362.5h4M1120 363.5h5M1122 364.5h5M1124 365.5h4M1126 366.5h4M1127 367.5h5M1129 368.5h6M1131 369.5h6M1134 370.5h6M1136 371.5h6M1139 372.5h6M1141 373.5h6M1144 374.5h6M1146 375.5h7M1149 376.5h7M1152 377.5h7M1155 378.5h7M1158 379.5h8M1161 380.5h9M1165 381.5h9M1169 382.5h9M1173 383.5h9M1177 384.5h8M1181 385.5h7M1184 386.5h6M1187 387.5h6M1189 388.5h7M1192 389.5h8M1195 390.5h10M1199 391.5h11M1204 392.5h11M1209 393.5h10M1214 394.5h10M1218 395.5h11M1223 396.5h11M1228 397.5h10M1233 398.5h10M1237 399.5h11M1242 400.5h11M1247 401.5h15M1252 402.5h17M1261 403.5h8"/>
<path class="c" fill="none" stroke="#4169e1" stroke-width="1" d="M164 103.5h8M157 104.5h16M149 105.5h16M172 105.5h2M141 106.5h17M173 106.5h2M138 107.5h12M173 107.5h2M137 108.5h5M174 108.5h2M135 109.5h4M175 109.5h2M133 110.5h5M176 110.5h2M131 111.5h5M177 111.5h2M129 112.5h5M178 112.5h2M128 113.5h4M179 113.5h2M126 114.5h4M179 114.5h2M124 115.5h5M180 115.5h2M122 116.5h5M181 116.5h2M120 117.5h5M182 117.5h2M119 118.5h4M183 118.5h2M117 119.5h4M184 119.5h2M115 120.5h5M185 120.5h2M114 121.5h4M186 121.5h2M113 122.5h3M187 122.5h2M112 123.5h3M188 123.5h2M111 124.5h3M189 124.5h2M110 125.5h3M189 125.5h2M109 126.5h3M190 126.5h2M107 127.5h4M191 127.5h2M106 128.5h4M192 128.5h2M104 129.5h4M193 129.5h2M102 130.5h5M194 130.5h2M101 131.5h4M195 131.5h2M99 132.5h4M196 132.5h2M97 133.5h5M197 133.5h2M96 134.5h4M198 134.5h2M94 135.5h4M199 135.5h2M92 136.5h5M199 136.5h2M91 137.5h4M200 137.5h2M89 138.5h4M201 138.5h2M88 139.5h4M202 139.5h2M86 140.5h4M203 140.5h2M84 141.5h5M204 141.5h2M83 142.5h4M205 142.5h2M81 143.5h4M206 143.5h2M80 144.5h4M207 144.5h2M78 145.5h4M208 145.5h2M77 146.5h4M209 146.5h2M75 147.5h4M209 147.5h2M73 148.5h5M210 148.5h2M72 149.5h4M211 149.5h2M70 150.5h4M212 150.5h2M69 151.5h4M213 151.5h2M67 152.5h4M214 152.5h2M66 153.5h4M215 153.5h2M64 154.5h4M216 154.5h2M63 155.5h4M217 155.5h2M61 156.5h4M218 156.5h2M60 157.5h4M219 157.5h2M58 158.5h4M219 158.5h2M57 159.5h4M220 159.5h2M55 160.5h4M221 160.5h2M54 161.5h4M222 161.5h2M52 162.5h4M223 162.5h2M51 163.5h4M223 163.5h2M49 164.5h4M224 164.5h2M48 165.5h4M225 165.5h2M47 166.5h3M226 166.5h2M45 167.5h4M227 167.5h2M44 168.5h4M227 168.5h2M42 169.5h4M228 169.5h2M41 170.5h4M229 170.5h2M40 171.5h3M230 171.5h2M38 172.5h4M231 172.5h2M37 173.5h4M231 173.5h2M36 174.5h3M232 174.5h2M35 175.5h3M233 175.5h2M34 176.5h3M234 176.5h2M33 177.5h3M235 177.5h3M32 178.5h3M236 178.5h3M31 179.5h3M237 179.5h3M30 180.5h3M238 180.5h3M29 181.5h3M239 181.5h3M28 182.5h3M240 182.5h3M26 183.5h4M241 183.5h3M24 184.5h5M242 184.5h3M22 185.5h5M243 185.5h3M20 186.5h5M244 186.5h3M16 187.5h7M245 187.5h3M12 188.5h9M246 188.5h3M9 189.5h8M247 189.5h3M5 190.5h8M248 190.5h4M3 191.5h7M249 191.5h5M3 192.5h3M251 192.5h6M253 193.5h6M256 194.5h5M258 195.5h5M260 196.5h5M262 197.5h6M264 198.5h6M267 199.5h5M269 200.5h5M271 201.5h5M273 202.5h4M275 203.5h4M276 204.5h5M278 205.5h5M280 206.5h5M282 207.5h4M284 208.5h4M285 209.5h5M287 210.5h5M289 211.5h7M291 212.5h10M295 213.5h10M347 213.5h16M300 214.5h10M342 214.5h21M304 215.5h11M338 215.5h10M362 215.5h2M309 216.5h16M334 216.5h9M363 216.5h2M314 217.5h25M364 217.5h2M324 218.5h11M365 218.5h2M366 219.5h2M367 220.5h2M368 221.5h2M369 222.5h2M370 223.5h2M371 224.5h2M371 225.5h2M372 226.5h2M373 227.5h2M374 228.5h2M375 229.5h2M376 230.5h2M377 231.5h2M378 232.5h2M379 233.5h2M380 234.5h2M380 235.5h2M381 236.5h2M382 237.5h2M383 238.5h2M384 239.5h2M385 240.5h2M386 241.5h2M387 242.5h2M388 243.5h2M389 244.5h2M389 245.5h2M390 246.5h2M391 247.5h2M392 248.5h2M392 249.5h2M393 250.5h2M394 251.5h2M395 252.5h2M396 253.5h2M396 254.5h2M397 255.5h2M398 256.5h2M399 257.5h2M399 258.5h2M400 259.5h2M401 260.5h2M402 261.5h2M402 262.5h2M403 263.5h2M403 264.5h2M404 265.5h2M860 265.5h10M889 265.5h16M404 266.5h2M852 266.5h20M886 266.5h20M405 267.5h2M850 267.5h11M869 267.5h5M883 267.5h7M904 267.5h3M405 268.5h2M848 268.5h5M871 268.5h16M905 268.5h4M406 269.5h2M846 269.5h5M873 269.5h11M906 269.5h4M407 270.5h2M842 270.5h7M908 270.5h3M407 271.5h2M833 271.5h14M909 271.5h4M408 272.5h2M823 272.5h20M910 272.5h3M408 273.5h2M821 273.5h13M912 273.5h2M409 274.5h2M795 274.5h30M912 274.5h2M409 275.5h2M792 275.5h30M913 275.5h2M410 276.5h2M788 276.5h8M914 276.5h2M410 277.5h2M785 277.5h8M915 277.5h2M411 278.5h2M781 278.5h8M916 278.5h2M411 279.5h2M778 279.5h8M916 279.5h2M412 280.5h2M775 280.5h7M917 280.5h2M412 281.5h2M763 281.5h16M918 281.5h2M412 282.5h2M758 282.5h18M918 282.5h2M413 283.5h2M753 283.5h11M919 283.5h2M413 284.5h2M737 284.5h22M919 284.5h2M414 285.5h2M735 285.5h19M919 285.5h2M414 286.5h2M733 286.5h5M920 286.5h2M414 287.5h2M731 287.5h5M920 287.5h2M415 288.5h2M730 288.5h4M921 288.5h2M415 289.5h2M729 289.5h2M921 289.5h2M416 290.5h2M729 290.5h2M922 290.5h2M416 291.5h2M728 291.5h2M922 291.5h2M417 292.5h2M727 292.5h2M923 292.5h2M417 293.5h2M726 293.5h2M923 293.5h2M417 294.5h2M725 294.5h2M924 294.5h2M418 295.5h2M724 295.5h2M924 295.5h2M418 296.5h2M724 296.5h2M925 296.5h2M419 297.5h2M723 297.5h2M925 297.5h2M419 298.5h2M722 298.5h2M926 298.5h2M420 299.5h2M722 299.5h2M926 299.5h2M420 300.5h2M721 300.5h2M926 300.5h2M420 301.5h2M720 301.5h2M927 301.5h2M421 302.5h2M720 302.5h2M927 302.5h2M421 303.5h2M719 303.5h2M928 303.5h2M422 304.5h2M718 304.5h2M928 304.5h2M422 305.5h2M718 305.5h2M929 305.5h2M423 306.5h2M717 306.5h2M929 306.5h2M423 307.5h2M716 307.5h2M930 307.5h2M423 308.5h2M716 308.5h2M931 308.5h2M424 309.5h2M714 309.5h3M931 309.5h2M424 310.5h2M712 310.5h5M932 310.5h2M425 311.5h2M711 311.5h4M932 311.5h2M425 312.5h2M709 312.5h4M933 312.5h2M426 313.5h2M707 313.5h5M933 313.5h2M426 314.5h2M705 314.5h5M934 314.5h2M426 315.5h2M703 315.5h5M934 315.5h2M427 316.5h2M701 316.5h5M935 316.5h2M427 317.5h2M699 317.5h5M935 317.5h2M428 318.5h2M697 318.5h5M936 318.5h2M428 319.5h2M695 319.5h5M936 319.5h2M429 320.5h2M694 320.5h4M937 320.5h2M429 321.5h2M691 321.5h5M937 321.5h2M429 322.5h2M688 322.5h7M938 322.5h2M430 323.5h2M685 323.5h7M938 323.5h2M430 324.5h2M682 324.5h7M938 324.5h2M431 325.5h2M678 325.5h8M939 325.5h2M431 326.5h2M675 326.5h8M939 326.5h2M432 327.5h2M672 327.5h7M940 327.5h2M432 328.5h2M668 328.5h8M940 328.5h2M432 329.5h2M665 329.5h8M940 329.5h2M433 330.5h2M661 330.5h8M941 330.5h2M433 331.5h2M658 331.5h8M941 331.5h2M434 332.5h3M654 332.5h8M941 332.5h2M435 333.5h3M650 333.5h9M942 333.5h2M436 334.5h3M646 334.5h9M942 334.5h2M437 335.5h3M642 335.5h9M943 335.5h2M438 336.5h4M639 336.5h8M943 336.5h2M439 337.5h4M635 337.5h8M943 337.5h2M441 338.5h3M632 338.5h8M944 338.5h2M442 339.5h3M629 339.5h7M944 339.5h2M443 340.5h4M626 340.5h7M945 340.5h2M444 341.5h4M623 341.5h7M945 341.5h2M446 342.5h3M620 342.5h7M946 342.5h2M447 343.5h4M617 343.5h7M946 343.5h2M448 344.5h4M616 344.5h5M946 344.5h2M450 345.5h3M615 345.5h3M947 345.5h2M451 346.5h3M614 346.5h3M947 346.5h2M452 347.5h4M613 347.5h3M948 347.5h2M453 348.5h4M612 348.5h3M948 348.5h2M455 349.5h4M611 349.5h3M949 349.5h2M456 350.5h4M610 350.5h3M949 350.5h2M458 351.5h4M608 351.5h4M950 351.5h2M459 352.5h4M607 352.5h4M950 352.5h2M461 353.5h4M606 353.5h3M951 353.5h2M462 354.5h5M605 354.5h3M951 354.5h2M464 355.5h4M604 355.5h3M951 355.5h2M466 356.5h4M603 356.5h3M952 356.5h2M467 357.5h4M602 357.5h3M952 357.5h2M469 358.5h4M601 358.5h3M953 358.5h2M470 359.5h4M600 359.5h3M953 359.5h2M472 360.5h4M599 360.5h3M954 360.5h2M473 361.5h5M598 361.5h2M954 361.5h2M475 362.5h5M597 362.5h2M955 362.5h2M477 363.5h5M596 363.5h2M955 363.5h2M479 364.5h5M595 364.5h2M956 364.5h2M481 365.5h5M594 365.5h2M956 365.5h2M483 366.5h4M593 366.5h2M957 366.5h2M485 367.5h3M592 367.5h2M957 367.5h2M486 368.5h4M591 368.5h2M958 368.5h2M487 369.5h4M591 369.5h2M958 369.5h2M489 370.5h4M590 370.5h2M959 370.5h2M490 371.5h4M589 371.5h2M959 371.5h2M492 372.5h3M588 372.5h2M959 372.5h2M493 373.5h4M587 373.5h2M960 373.5h2M494 374.5h4M586 374.5h2M960 374.5h2M496 375.5h3M585 375.5h2M961 375.5h2M497 376.5h4M584 376.5h2M961 376.5h2M498 377.5h18M583 377.5h2M962 377.5h2M500 378.5h31M582 378.5h3M962 378.5h2M515 379.5h21M581 379.5h3M963 379.5h2M530 380.5h11M580 380.5h3M963 380.5h2M535 381.5h9M579 381.5h3M964 381.5h2M540 382.5h6M578 382.5h3M964 382.5h2M543 383.5h4M576 383.5h4M965 383.5h2M545 384.5h4M575 384.5h4M965 384.5h2M546 385.5h5M574 385.5h3M966 385.5h2M548 386.5h4M573 386.5h3M966 386.5h2M550 387.5h4M572 387.5h3M967 387.5h2M551 388.5h23M967 388.5h2M553 389.5h20M968 389.5h2M969 390.5h2M969 391.5h2M970 392.5h2M970 393.5h2M971 394.5h2M971 395.5h2M972 396.5h2M972 397.5h2M973 398.5h2M973 399.5h2M974 400.5h2M974 401.5h2M975 402.5h2M976 403.5h2M976 404.5h2M977 405.5h2M977 406.5h2M978 407.5h2M978 408.5h2M979 409.5h2M979 410.5h2M980 411.5h2M981 412.5h2M982 413.5h2M982 414.5h2M983 415.5h2M984 416.5h2M985 417.5h2M985 418.5h2M986 419.5h2M987 420.5h2M988 421.5h2M988 422.5h2M989 423.5h2M990 424.5h2M990 425.5h2M991 426.5h2M992 427.5h2M993 428.5h2M993 429.5h2M994 430.5h2M995 431.5h2M996 432.5h2M996 433.5h2M997 434.5h2M998 435.5h2M999 436.5h2M999 437.5h2M1000 438.5h2M1001 439.5h2M1002 440.5h2M1003 441.5h2M1004 442.5h2M1005 443.5h2M1006 444.5h2M1007 445.5h2M1008 446.5h2M1009 447.5h2M1010 448.5h2M1011 449.5h2M1012 450.5h2M1013 451.5h3M1014 452.5h3M1015 453.5h3M1016 454.5h3M1017 455.5h3M1018 456.5h3M1019 457.5h3M1020 458.5h3M1021 459.5h4M1022 460.5h4M1024 461.5h3M1025 462.5h3M1026 463.5h3M1027 464.5h3M1028 465.5h3M1029 466.5h3M1087 466.5h10M1030 467.5h4M1082 467.5h19M1031 468.5h5M1077 468.5h11M1096 468.5h7M1033 469.5h5M1073 469.5h10M1100 469.5h5M1035 470.5h5M1070 470.5h8M1102 470.5h6M1037 471.5h4M1068 471.5h6M1104 471.5h6M1039 472.5h4M1066 472.5h5M1107 472.5h5M1040 473.5h5M1063 473.5h6M1109 473.5h4M1042 474.5h5M1061 474.5h6M1111 474.5h3M1044 475.5h5M1058 475.5h6M1112 475.5h4M1046 476.5h16M1113 476.5h4M1048 477.5h11M1115 477.5h2M1116 478.5h2M1117 479.5h2M1117 480.5h2M1118 481.5h2M1119 482.5h2M1120 483.5h2M1121 484.5h2M1121 485.5h2M1122 486.5h2M1264 486.5h5M1123 487.5h3M1259 487.5h10M1124 488.5h3M1252 488.5h13M1125 489.5h3M1245 489.5h15M1126 490.5h3M1240 490.5h13M1127 491.5h3M1237 491.5h9M1128 492.5h3M1220 492.5h21M1129 493.5h4M1216 493.5h22M1130 494.5h6M1212 494.5h9M1132 495.5h8M1208 495.5h9M1135 496.5h9M1204 496.5h9M1139 497.5h9M1194 497.5h15M1143 498.5h10M1188 498.5h17M1147 499.5h11M1182 499.5h13M1152 500.5h37M1157 501.5h26"/>
<g class="c" stroke="#4169e1" stroke-width="1" stroke-dasharray="3 3">
<line x1="3" y1="42.5" x2="1591" y2="42.5"/>
<line x1="3" y1="89.5" x2="1591" y2="89.5"/>
<line x1="3" y1="122.5" x2="1591" y2="122.5"/>
<line x1="3" y1="175.5" x2="1591" y2="175.5"/>
<line x1="3" y1="232.5" x2="1591" y2="232.5"/>
<line x1="3" y1="289.5" x2="1591" y2="289.5"/>
<line x1="3" y1="346.5" x2="1591" y2="346.5"/>
<line x1="3" y1="384.5" x2="1591" y2="384.5"/>
<line x1="3" y1="413.5" x2="1591" y2="413.5"/>
<line x1="3" y1="451.5" x2="1591" y2="451.5"/>
<line x1="3" y1="479.5" x2="1591" y2="479.5"/>
<line x1="3" y1="508.5" x2="1591" y2="508.5"/>
<line x1="3" y1="536.5" x2="1591" y2="536.5"/>
<line x1="3" y1="574.5" x2="1591" y2="574.5"/>
<line x1="3" y1="603.5" x2="1591" y2="603.5"/>
<line x1="3" y1="631.5" x2="1591" y2="631.5"/>
</g>
<g class="c" fill="#000">
<rect x="2" y="2" width="1590" height="1"/>
<rect x="2" y="2" width="1" height="650"/>
<rect x="2" y="651" width="1590" height="1"/>
<rect x="1591" y="2" width="1" height="650"/>
<rect x="1592" y="4" width="2" height="1"/>
<rect x="1592" y="56" width="2" height="1"/>
<rect x="1592" y="108" width="2" height="1"/>
<rect x="1592" y="161" width="2" height="1"/>
<rect x="1592" y="213" width="2" height="1"/>
<rect x="1592" y="265" width="2" height="1"/>
<rect x="1592" y="317" width="2" height="1"/>
<rect x="1592" y="370" width="2" height="1"/>
<rect x="1592" y="422" width="2" height="1"/>
<rect x="1592" y="526" width="2" height="1"/>
<rect x="1592" y="474" width="2" height="1"/>
<rect x="1592" y="579" width="2" height="1"/>
<rect x="1592" y="631" width="2" height="1"/>
<rect x="3" y="652" width="1" height="2"/>
<rect x="99" y="652" width="1" height="2"/>
<rect x="195" y="652" width="1" height="2"/>
<rect x="291" y="652" width="1" height="2"/>
<rect x="387" y="652" width="1" height="2"/>
<rect x="483" y="652" width="1" height="2"/>
<rect x="579" y="652" width="1" height="2"/>
<rect x="675" y="652" width="1" height="2"/>
<rect x="771" y="652" width="1" height="2"/>
<rect x="867" y="652" width="1" height="2"/>
<rect x="963" y="652" width="1" height="2"/>
<rect x="1059" y="652" width="1" height="2"/>
<rect x="1155" y="652" width="1" height="2"/>
<rect x="1251" y="652" width="1" height="2"/>
</g>
<text x="1598" y="9" textLength="32" lengthAdjust="spacing">3.660</text>
<text x="1598" y="61" textLength="32" lengthAdjust="spacing">3.605</text>
<text x="1598" y="113" textLength="32" lengthAdjust="spacing">3.550</text>
<text x="1598" y="166" textLength="32" lengthAdjust="spacing">3.495</text>
<text x="1598" y="218" textLength="32" lengthAdjust="spacing">3.440</text>
<text x="1598" y="270" textLength="32" lengthAdjust="spacing">3.385</text>
<text x="1598" y="322" textLength="32" lengthAdjust="spacing">3.330</text>
<text x="1598" y="375" textLength="32" lengthAdjust="spacing">3.275</text>
<text x="1598" y="427" textLength="32" lengthAdjust="spacing">3.220</text>
<text x="1598" y="531" textLength="32" lengthAdjust="spacing">3.110</text>
<text x="1598" y="479" textLength="32" lengthAdjust="spacing">3.165</text>
<text x="1598" y="584" textLength="32" lengthAdjust="spacing">3.055</text>
<rect class="c" x="1593" y="463" width="42" height="14" fill="#000"/>
<text class="w" x="1598" y="475.5" textLength="32" lengthAdjust="spacing">3.170</text>
<rect class="c" x="1593" y="36" width="42" height="14" fill="#4169e1"/>
<text class="w" x="1598" y="48" textLength="32" lengthAdjust="spacing">3.620</text>
<rect class="c" x="1593" y="83" width="42" height="14" fill="#4169e1"/>
<text class="w" x="1598" y="95" textLength="32" lengthAdjust="spacing">3.570</text>
<rect class="c" x="1593" y="116" width="42" height="14" fill="#4169e1"/>
<text class="w" x="1598" y="128" textLength="32" lengthAdjust="spacing">3.535</text>
<rect class="c" x="1593" y="169" width="42" height="14" fill="#4169e1"/>
<text class="w" x="1598" y="181" textLength="32" lengthAdjust="spacing">3.480</text>
<rect class="c" x="1593" y="226" width="42" height="14" fill="#4169e1"/>
<text class="w" x="1598" y="238" textLength="32" lengthAdjust="spacing">3.420</text>
<rect class="c" x="1593" y="283" width="42" height="14" fill="#4169e1"/>
<text class="w" x="1598" y="295" textLength="32" lengthAdjust="spacing">3.360</text>
<rect class="c" x="1593" y="340" width="42" height="14" fill="#4169e1"/>
<text class="w" x="1598" y="352" textLength="32" lengthAdjust="spacing">3.300</text>
<rect class="c" x="1593" y="378" width="42" height="14" fill="#4169e1"/>
<text class="w" x="1598" y="390" textLength="32" lengthAdjust="spacing">3.260</text>
<rect class="c" x="1593" y="407" width="42" height="14" fill="#4169e1"/>
<text class="w" x="1598" y="419" textLength="32" lengthAdjust="spacing">3.230</text>
<rect class="c" x="1593" y="445" width="42" height="14" fill="#4169e1"/>
<text class="w" x="1598" y="457" textLength="32" lengthAdjust="spacing">3.190</text>
<rect class="c" x="1593" y="473" width="42" height="14" fill="#4169e1"/>
<text class="w" x="1598" y="485" textLength="32" lengthAdjust="spacing">3.160</text>
<rect class="c" x="1593" y="502" width="42" height="14" fill="#4169e1"/>
<text class="w" x="1598" y="514" textLength="32" lengthAdjust="spacing">3.130</text>
<rect class="c" x="1593" y="530" width="42" height="14" fill="#4169e1"/>
<text class="w" x="1598" y="542" textLength="32" lengthAdjust="spacing">3.100</text>
<rect class="c" x="1593" y="568" width="42" height="14" fill="#4169e1"/>
<text class="w" x="1598" y="580" textLength="32" lengthAdjust="spacing">3.060</text>
<rect class="c" x="1593" y="597" width="42" height="14" fill="#4169e1"/>
<text class="w" x="1598" y="609" textLength="32" lengthAdjust="spacing">3.030</text>
<rect class="c" x="1593" y="625" width="42" height="14" fill="#4169e1"/>
<text class="w" x="1598" y="637" textLength="32" lengthAdjust="spacing">3.000</text>
<text x="2.2" y="667" style="letter-spacing:0.24px">7 Jan 2026</text>
<text x="98.2" y="667" style="letter-spacing:0.24px">8 Jan 05:01</text>
<text x="194.2" y="667" style="letter-spacing:0.24px">8 Jan 17:01</text>
<text x="290.2" y="667" style="letter-spacing:0.24px">9 Jan 06:01</text>
<text x="386.2" y="667" style="letter-spacing:0.24px">9 Jan 18:01</text>
<text x="482.2" y="667" style="letter-spacing:0.24px">12 Jan 07:01</text>
<text x="578.2" y="667" style="letter-spacing:0.24px">12 Jan 19:01</text>
<text x="674.2" y="667" style="letter-spacing:0.24px">13 Jan 08:01</text>
<text x="770.2" y="667" style="letter-spacing:0.24px">13 Jan 20:01</text>
<text x="866.2" y="667" style="letter-spacing:0.24px">14 Jan 09:01</text>
<text x="962.2" y="667" style="letter-spacing:0.24px">14 Jan 21:01</text>
<text x="1058.2" y="667" style="letter-spacing:0.24px">15 Jan 10:01</text>
<text x="1154.2" y="667" style="letter-spacing:0.24px">15 Jan 22:01</text>
<text x="1250.2" y="667" style="letter-spacing:0.24px">16 Jan 11:01</text>
</svg></body></html>
